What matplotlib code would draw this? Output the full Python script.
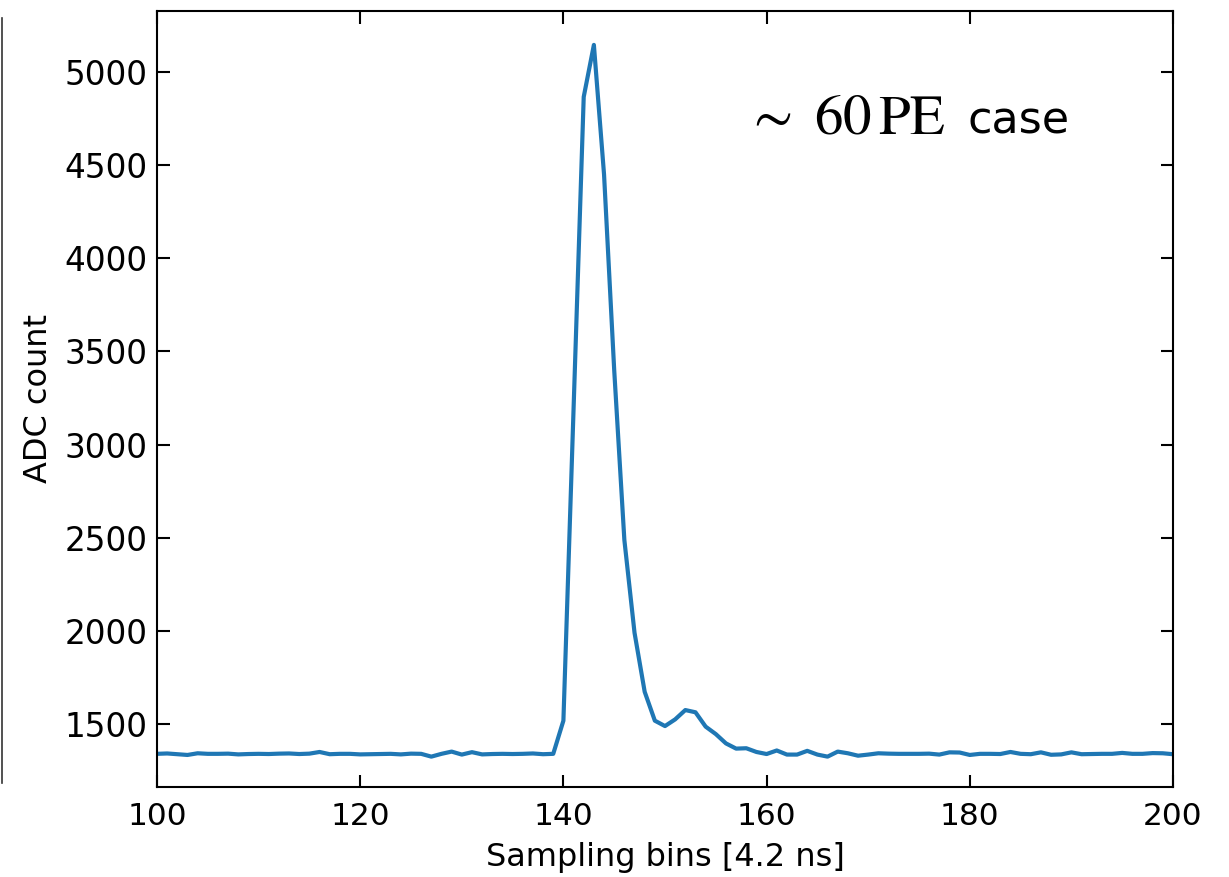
import matplotlib
matplotlib.use("Agg")
import matplotlib.pyplot as plt
from matplotlib.lines import Line2D
import numpy as np

# Data: sampling bins 100..200 and ADC counts
bins = list(range(100, 201))
adc = [
    1340, 1342, 1338, 1334, 1343, 1340, 1340, 1341, 1337, 1339,   # 100-109
    1340, 1339, 1341, 1342, 1339, 1341, 1350, 1338, 1340, 1340,   # 110-119
    1337, 1338, 1339, 1340, 1337, 1341, 1340, 1325, 1340, 1352,   # 120-129
    1336, 1349, 1337, 1339, 1340, 1339, 1340, 1342, 1338, 1340,   # 130-139
    1518, 3190, 4866, 5145, 4450, 3400, 2488, 1990, 1673, 1518,   # 140-149
    1489, 1525, 1575, 1563, 1486, 1446, 1396, 1368, 1370, 1350,   # 150-159
    1339, 1358, 1336, 1336, 1356, 1336, 1325, 1352, 1343, 1330,   # 160-169
    1336, 1343, 1341, 1340, 1340, 1340, 1341, 1336, 1348, 1347,   # 170-179
    1334, 1340, 1340, 1339, 1350, 1340, 1338, 1348, 1335, 1337,   # 180-189
    1348, 1338, 1339, 1340, 1340, 1345, 1340, 1340, 1344, 1343,   # 190-199
    1338,                                                         # 200
]
xticks = [100, 120, 140, 160, 180, 200]
yticks = [1500, 2000, 2500, 3000, 3500, 4000, 4500, 5000]

plt.rcParams['mathtext.fontset'] = 'stix'

fig = plt.figure(figsize=(12.29, 8.77), dpi=100)
ax = fig.add_axes([157/1229, 1 - 787/877, (1173-157)/1229, (787-11)/877])

ax.plot(bins, adc, color='#1f77b4', linewidth=3.0)

ax.set_xlim(100, 200)
ax.set_ylim(1162, 5327)
ax.set_xticks(xticks)
ax.set_yticks(yticks)
ax.tick_params(axis='x', which='major', direction='in', top=True, right=True,
               length=9, width=1.5, labelsize=22.5, pad=11)
ax.tick_params(axis='y', which='major', direction='in', top=True, right=True,
               length=9, width=1.5, labelsize=23.5, pad=7)
for sp in ax.spines.values():
    sp.set_linewidth(1.5)

ax.set_xlabel('Sampling bins [4.2 ns]', fontsize=23, labelpad=8)
ax.set_ylabel('ADC count', fontsize=23, labelpad=7)

ax.text((745-157)/1016, (787-134)/776, r'$\sim\ 60\,\mathrm{PE}$', transform=ax.transAxes,
        fontsize=41, ha='left', va='baseline')
ax.text((968-157)/1016, (787-134)/776, 'case', transform=ax.transAxes,
        fontsize=32, ha='left', va='baseline')

# thin vertical line at the far left edge (as in the reference image)
fig.add_artist(Line2D([1.5/1229, 1.5/1229], [1 - 783/877, 1 - 18/877],
                      transform=fig.transFigure, color='#333333', linewidth=1.2))

fig.savefig('out.png', dpi=100)
